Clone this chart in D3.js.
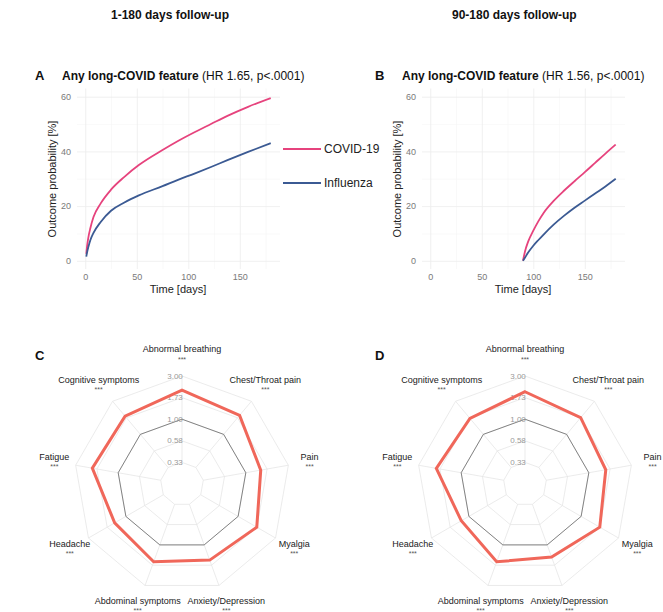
<!DOCTYPE html>
<html>
<head>
<meta charset="utf-8">
<script src="https://cdn.jsdelivr.net/npm/d3@7"></script>
<style>
  body { margin: 0; background: #fff; }
  svg { display: block; font-family: "Liberation Sans", Arial, sans-serif; }
  .grid line { stroke: #ececec; stroke-width: 0.8; }
  .grid-minor line { stroke: #f5f5f5; stroke-width: 0.6; }
  .grid path, .grid-minor path, .axis path { display: none; }
  .axis line { display: none; }
  .axis text { fill: #7a7a7a; font-size: 9px; font-family: "Liberation Sans", Arial, sans-serif; }
</style>
</head>
<body>
<svg id="chart" width="663" height="612"></svg>
<script>
// cumulative incidence curves, 1-180 days
const daysA = [1, 2, 3, 5, 8, 15, 25, 38, 52, 75, 90, 106, 122, 138, 158, 180];
const covidA = [2.5, 6, 8.5, 12, 16, 21, 26, 30.7, 35, 40.5, 43.8, 47, 50, 53, 56.3, 59.5];
const fluA = [1.5, 3.5, 5, 7.6, 10.2, 14.2, 18.3, 21.3, 23.9, 27.3, 29.6, 31.9, 34.3, 36.8, 39.8, 43];

// 90-180 days
const daysB = [90, 92, 95, 100, 105, 110, 120, 130, 140, 150, 160, 170, 180];
const covidB = [0, 3.5, 7, 11, 14.5, 17.5, 22, 25.7, 29.1, 32.4, 35.8, 39.2, 42.5];
const fluB = [0, 1.2, 3, 5.5, 7.6, 9.6, 13.3, 16.5, 19.4, 22, 24.6, 27.2, 30];

const xTicks = [0, 50, 100, 150];
const xMinor = [25, 75, 125, 175];
const yTicks = [0, 20, 40, 60];
const yMinor = [10, 30, 50];

// radar: hazard ratios vs influenza
const symptoms = ["Abnormal breathing", "Chest/Throat pain", "Pain", "Myalgia",
  "Anxiety/Depression", "Abdominal symptoms", "Headache", "Fatigue", "Cognitive symptoms"];
const signif = ["***", "***", "***", "***", "***", "***", "***", "***", "***"];
const hrC = [2.10, 1.88, 1.47, 1.73, 1.51, 1.58, 1.39, 1.95, 1.83];
const hrD = [2.01, 1.74, 1.55, 1.73, 1.39, 1.58, 1.25, 1.90, 1.70];
const reference = [1, 1, 1, 1, 1, 1, 1, 1, 1];
const ringTicks = [1 / 3, 0.577, 1, 1.732, 3];

const pink = "#e6437d";
const blue = "#3b5a93";
const salmon = "#f0675a";

const svg = d3.select("#chart");

svg.append("text").attr("x", 111).attr("y", 19)
  .attr("font-size", 12).attr("font-weight", "bold").attr("fill", "#111")
  .text("1-180 days follow-up");
svg.append("text").attr("x", 452).attr("y", 19)
  .attr("font-size", 12).attr("font-weight", "bold").attr("fill", "#111")
  .text("90-180 days follow-up");

function drawCurves(cfg) {
  const x = d3.scaleLinear().domain([-8, 189]).range([cfg.left, cfg.left + 203]);
  const y = d3.scaleLinear().domain([-3, 63]).range([269, 88.5]);
  const g = svg.append("g");

  g.append("g").attr("class", "grid-minor")
    .attr("transform", `translate(0,269)`)
    .call(d3.axisBottom(x).tickValues(xMinor).tickSize(-180.5).tickFormat(""));
  g.append("g").attr("class", "grid-minor")
    .attr("transform", `translate(${cfg.left},0)`)
    .call(d3.axisLeft(y).tickValues(yMinor).tickSize(-203).tickFormat(""));
  g.append("g").attr("class", "grid")
    .attr("transform", `translate(0,269)`)
    .call(d3.axisBottom(x).tickValues(xTicks).tickSize(-180.5).tickFormat(""));
  g.append("g").attr("class", "grid")
    .attr("transform", `translate(${cfg.left},0)`)
    .call(d3.axisLeft(y).tickValues(yTicks).tickSize(-203).tickFormat(""));

  g.append("g").attr("class", "axis")
    .attr("transform", `translate(0,272)`)
    .call(d3.axisBottom(x).tickValues(xTicks).tickSize(0).tickPadding(2));
  g.append("g").attr("class", "axis")
    .attr("transform", `translate(${cfg.left - 4},0)`)
    .call(d3.axisLeft(y).tickValues(yTicks).tickSize(0).tickPadding(2));

  g.append("text")
    .attr("x", cfg.left + 101).attr("y", 293)
    .attr("text-anchor", "middle").attr("font-size", 11).attr("fill", "#222")
    .text("Time [days]");
  g.append("text")
    .attr("transform", `translate(${cfg.left - 21},179) rotate(-90)`)
    .attr("text-anchor", "middle").attr("font-size", 11).attr("fill", "#222")
    .text("Outcome probability [%]");

  const line = d3.line()
    .x((d) => x(d[0]))
    .y((d) => y(d[1]))
    .curve(d3.curveMonotoneX);

  cfg.series.forEach((s) => {
    g.append("path")
      .datum(cfg.days.map((d, i) => [d, s.values[i]]))
      .attr("fill", "none")
      .attr("stroke", s.colour)
      .attr("stroke-width", 1.8)
      .attr("d", line);
  });

  const title = g.append("text").attr("x", cfg.titleX).attr("y", 79.5)
    .attr("font-size", 12).attr("fill", "#111");
  title.append("tspan").attr("font-weight", "bold").text("Any long-COVID feature");
  title.append("tspan").text(` (${cfg.hr})`);
  g.append("text").attr("x", cfg.titleX - 27).attr("y", 80)
    .attr("font-size", 13).attr("font-weight", "bold").attr("fill", "#111")
    .text(cfg.letter);
}

drawCurves({
  left: 77, letter: "A", titleX: 62, hr: "HR 1.65, p<.0001", days: daysA,
  series: [{ values: covidA, colour: pink }, { values: fluA, colour: blue }]
});
drawCurves({
  left: 422, letter: "B", titleX: 402, hr: "HR 1.56, p<.0001", days: daysB,
  series: [{ values: covidB, colour: pink }, { values: fluB, colour: blue }]
});

// legend
const legend = svg.append("g");
[{ name: "COVID-19", colour: pink, y: 149 }, { name: "Influenza", colour: blue, y: 183 }]
  .forEach((d) => {
    legend.append("line").attr("x1", 283).attr("x2", 321)
      .attr("y1", d.y).attr("y2", d.y)
      .attr("stroke", d.colour).attr("stroke-width", 2);
    legend.append("text").attr("x", 324).attr("y", d.y)
      .attr("dominant-baseline", "central").attr("font-size", 12).attr("fill", "#222")
      .text(d.name);
  });

function drawRadar(cfg) {
  const R = 108;
  const cx = cfg.cx, cy = 484;
  const r = d3.scaleLog().domain([1 / 3, 3]).range([R * 0.2, R]);
  const angle = d3.scalePoint().domain(symptoms).range([0, 2 * Math.PI * (symptoms.length - 1) / symptoms.length]);
  const g = svg.append("g").attr("transform", `translate(${cx},${cy})`);

  const radial = d3.lineRadial()
    .angle((d) => angle(d.k))
    .radius((d) => r(d.v))
    .curve(d3.curveLinearClosed);

  ringTicks.forEach((t) => {
    g.append("path")
      .datum(symptoms.map((k) => ({ k, v: t })))
      .attr("d", radial).attr("fill", "none")
      .attr("stroke", "#e6e6e6").attr("stroke-width", 0.8);
  });
  symptoms.forEach((k) => {
    const a = angle(k);
    g.append("line")
      .attr("x1", r(1 / 3) * Math.sin(a)).attr("y1", -r(1 / 3) * Math.cos(a))
      .attr("x2", R * Math.sin(a)).attr("y2", -R * Math.cos(a))
      .attr("stroke", "#e6e6e6").attr("stroke-width", 0.8);
  });

  g.append("path")
    .datum(symptoms.map((k, i) => ({ k, v: reference[i] })))
    .attr("d", radial).attr("fill", "none")
    .attr("stroke", "#555").attr("stroke-width", 0.7);

  ringTicks.forEach((t) => {
    g.append("text").attr("x", -7).attr("y", -r(t))
      .attr("text-anchor", "middle").attr("dominant-baseline", "central")
      .attr("font-size", 8).attr("fill", "#999")
      .text(t.toFixed(2));
  });

  g.append("path")
    .datum(symptoms.map((k, i) => ({ k, v: cfg.values[i] })))
    .attr("d", radial).attr("fill", "none")
    .attr("stroke", salmon).attr("stroke-width", 3)
    .attr("stroke-linejoin", "miter");

  symptoms.forEach((k, i) => {
    const a = angle(k);
    const lx = 1.2 * R * Math.sin(a), ly = -1.2 * R * Math.cos(a);
    g.append("text").attr("x", lx).attr("y", ly - 5)
      .attr("text-anchor", "middle").attr("dominant-baseline", "central")
      .attr("font-size", 9).attr("fill", "#222").text(k);
    g.append("text").attr("x", lx).attr("y", ly + 5)
      .attr("text-anchor", "middle").attr("dominant-baseline", "central")
      .attr("font-size", 7).attr("fill", "#555").text(signif[i]);
  });

  svg.append("text").attr("x", cfg.letterX).attr("y", 360)
    .attr("font-size", 13).attr("font-weight", "bold").attr("fill", "#111")
    .text(cfg.letter);
}

drawRadar({ cx: 182, letter: "C", letterX: 35, values: hrC });
drawRadar({ cx: 525, letter: "D", letterX: 375, values: hrD });
</script>
</body>
</html>
